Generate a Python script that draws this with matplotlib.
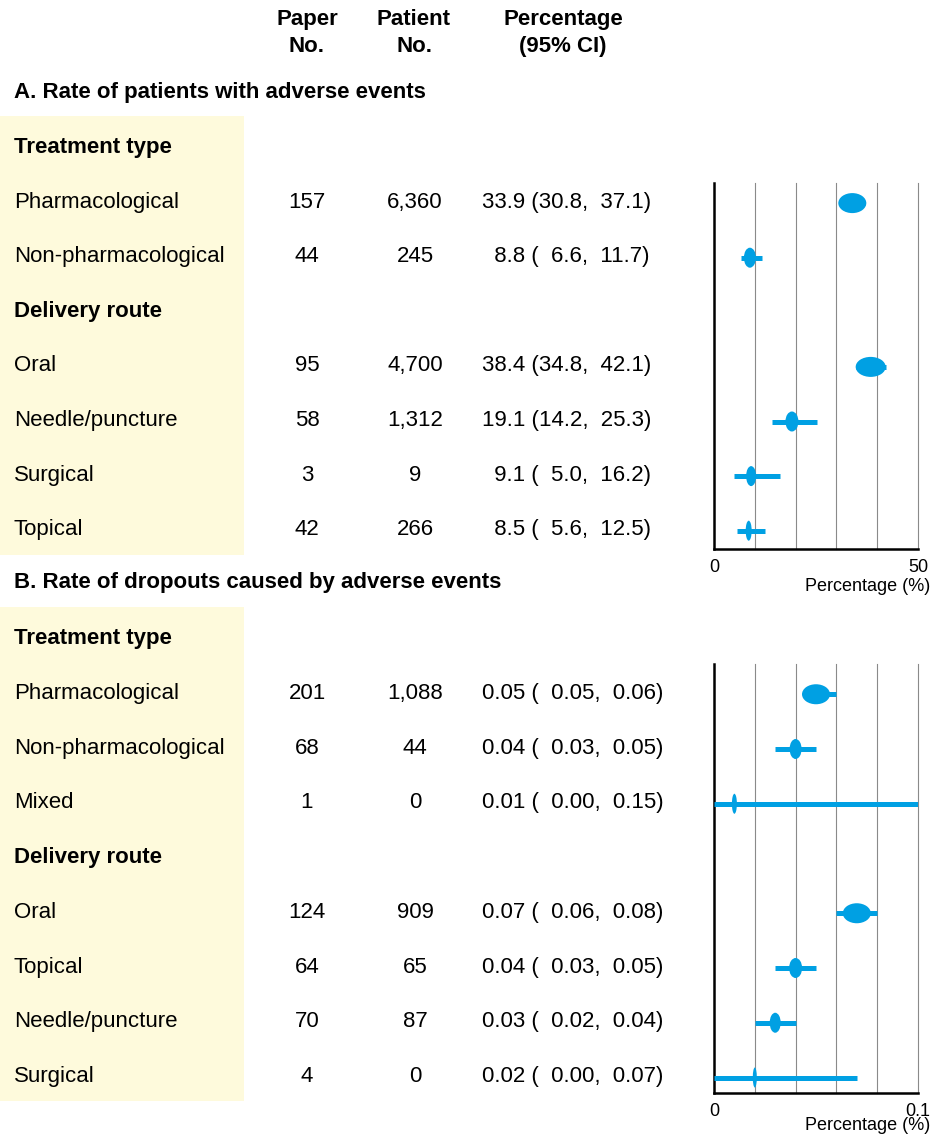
import matplotlib
matplotlib.use('Agg')
import matplotlib.pyplot as plt
from matplotlib.patches import Ellipse, Rectangle

plt.rcParams['font.family'] = ['Liberation Sans', 'DejaVu Sans']

# A. Rate of patients with adverse events
a_group = ['Treatment type'] * 2 + ['Delivery route'] * 4
a_labels = ['Pharmacological', 'Non-pharmacological', 'Oral', 'Needle/puncture', 'Surgical', 'Topical']
a_papers = [157, 44, 95, 58, 3, 42]
a_patients = [6360, 245, 4700, 1312, 9, 266]
a_est = [33.9, 8.8, 38.4, 19.1, 9.1, 8.5]
a_lo = [30.8, 6.6, 34.8, 14.2, 5.0, 5.6]
a_hi = [37.1, 11.7, 42.1, 25.3, 16.2, 12.5]

# B. Rate of dropouts caused by adverse events
b_group = ['Treatment type'] * 3 + ['Delivery route'] * 4
b_labels = ['Pharmacological', 'Non-pharmacological', 'Mixed', 'Oral', 'Topical', 'Needle/puncture', 'Surgical']
b_papers = [201, 68, 1, 124, 64, 70, 4]
b_patients = [1088, 44, 0, 909, 65, 87, 0]
b_est = [0.05, 0.04, 0.01, 0.07, 0.04, 0.03, 0.02]
b_lo = [0.05, 0.03, 0.00, 0.06, 0.03, 0.02, 0.00]
b_hi = [0.06, 0.05, 0.15, 0.08, 0.05, 0.04, 0.07]

# marker widths in pixels (weight of each estimate)
a_mark_w = [28, 12, 30, 13, 10, 6]
b_mark_w = [28, 12, 5, 28, 13, 11, 4]

W, H = 936, 1138
BLUE = '#00A0E3'
YELLOW = '#FEFADC'
FS = 16

fig = plt.figure(figsize=(W / 100, H / 100), dpi=100)
bg = fig.add_axes([0, 0, 1, 1])
bg.set_xlim(0, W)
bg.set_ylim(H, 0)
bg.axis('off')


def pad(s, n):
    return '  ' * max(0, n - len(s)) + s


def section(title, title_y, y0, step, group, labels, papers, patients, est, lo, hi,
            fmt, lo_w, ax_top, ax_bot, xmax, xtick_lab, mark_w, grid_step, xlab_y):
    # rows: subgroup header followed by its items
    rows = []
    for i, g in enumerate(group):
        if i == 0 or group[i - 1] != g:
            rows.append(('head', g))
        rows.append(('item', i))
    ys = [y0 + k * step for k in range(len(rows))]

    bg.text(14, title_y, title, fontsize=FS, fontweight='bold', ha='left', va='center')
    bg.add_patch(Rectangle((0, ys[0] - step / 2 - 3), 244, ys[-1] - ys[0] + step + 2,
                           facecolor=YELLOW, edgecolor='none', zorder=0))

    ax = fig.add_axes([714 / W, 1 - ax_bot / H, 204 / W, (ax_bot - ax_top) / H])
    ax.set_xlim(0, xmax)
    ax.set_ylim(ax_bot, ax_top)
    for s in ['top', 'right']:
        ax.spines[s].set_visible(False)
    for s in ['left', 'bottom']:
        ax.spines[s].set_linewidth(1.8)
        ax.spines[s].set_color('black')
    ax.set_yticks([])
    ax.set_xticks([0, xmax])
    ax.set_xticklabels(['0', xtick_lab], fontsize=13)
    ax.tick_params(axis='x', length=0, pad=7)
    for k in range(1, 6):
        ax.axvline(k * grid_step, color='#8a8a8a', lw=0.8, zorder=1, clip_on=False)
    bg.text(930, xlab_y, 'Percentage (%)', fontsize=13, ha='right', va='center')

    px = xmax / 204.0
    for (kind, val), y in zip(rows, ys):
        ty = y + 1.5
        if kind == 'head':
            bg.text(14, ty, val, fontsize=FS, fontweight='bold', ha='left', va='center')
            continue
        i = val
        bg.text(14, ty, labels[i], fontsize=FS, ha='left', va='center')
        bg.text(307, ty, f'{papers[i]:,}', fontsize=FS, ha='center', va='center')
        bg.text(415, ty, f'{patients[i]:,}', fontsize=FS, ha='center', va='center')
        e, l, h = (fmt.format(v) for v in (est[i], lo[i], hi[i]))
        bg.text(482, ty, f'{pad(e, 4)} ({pad(l, lo_w)},  {h})', fontsize=FS, ha='left', va='center')

        my = y + 2.5
        ax.plot([lo[i], hi[i]], [my, my], color=BLUE, lw=3.6, solid_capstyle='butt', zorder=3)
        ax.add_patch(Ellipse((est[i], my), mark_w[i] * px, 20, facecolor=BLUE,
                             edgecolor='none', zorder=4))
    return ax


# column headers
for x, top, bot in [(307, 'Paper', 'No.'), (414, 'Patient', 'No.'), (563, 'Percentage', '(95% CI)')]:
    bg.text(x, 19, top, fontsize=FS, fontweight='bold', ha='center', va='center')
    bg.text(x, 46, bot, fontsize=FS, fontweight='bold', ha='center', va='center')

section('A. Rate of patients with adverse events', 92, 146, 54.6,
        a_group, a_labels, a_papers, a_patients, a_est, a_lo, a_hi,
        '{:.1f}', 4, 183, 549, 50, '50', a_mark_w, 10, 586)

section('B. Rate of dropouts caused by adverse events', 582, 637, 54.75,
        b_group, b_labels, b_papers, b_patients, b_est, b_lo, b_hi,
        '{:.2f}', 5, 664, 1093, 0.1, '0.1', b_mark_w, 0.02, 1126)

fig.savefig('out.png', dpi=100)
